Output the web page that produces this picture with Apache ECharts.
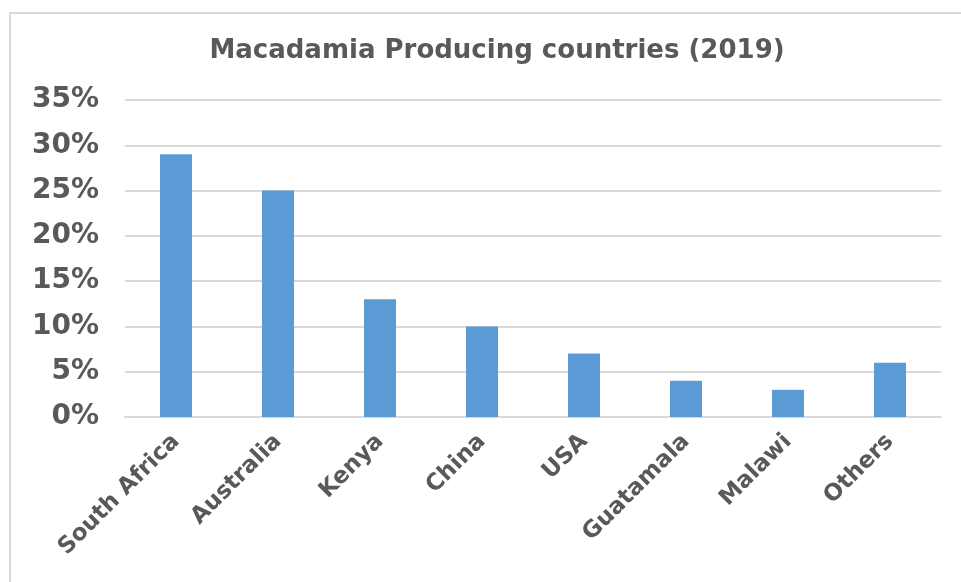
<!DOCTYPE html>
<html>
<head>
<meta charset="utf-8">
<script src="https://cdn.jsdelivr.net/npm/echarts@6/dist/echarts.min.js"></script>
<style>
  html, body { margin: 0; padding: 0; background: #fff; }
  #chart { width: 961px; height: 582px; }
</style>
</head>
<body>
<div id="chart"></div>
<script>
var countries = ['South Africa', 'Australia', 'Kenya', 'China', 'USA', 'Guatamala', 'Malawi', 'Others'];
var shares = [0.29, 0.25, 0.13, 0.10, 0.07, 0.04, 0.03, 0.06];

var textGray = '#595959';
var myChart = echarts.init(document.getElementById('chart'));

var option = {
    animation: false,
    backgroundColor: '#fff',
    title: {
        text: 'Macadamia Producing countries (2019)',
        left: 492,
        textAlign: 'center',
        top: 33,
        textStyle: {
            fontFamily: 'DejaVu Sans',
            fontWeight: 'bold',
            fontSize: 26,
            color: textGray
        }
    },
    // chart frame like the spreadsheet border
    graphic: [{
        type: 'rect',
        shape: { x: 10, y: 13, width: 960, height: 580 },
        style: { fill: 'none', stroke: '#d9d9d9', lineWidth: 2 },
        silent: true
    }],
    grid: {
        left: 125,
        right: 20,
        top: 100,
        bottom: 165
    },
    xAxis: {
        type: 'category',
        data: countries,
        axisLine: { show: true, lineStyle: { color: '#d9d9d9', width: 2 } },
        axisTick: { show: false },
        axisLabel: {
            rotate: 45,
            margin: 21,
            interval: 0,
            fontFamily: 'DejaVu Sans',
            fontWeight: 'bold',
            fontSize: 23,
            color: textGray
        }
    },
    yAxis: {
        type: 'value',
        min: 0,
        max: 0.35,
        interval: 0.05,
        axisLine: { show: false },
        axisTick: { show: false },
        splitLine: { lineStyle: { color: '#d9d9d9', width: 2 } },
        axisLabel: {
            margin: 26,
            fontFamily: 'DejaVu Sans',
            fontWeight: 'bold',
            fontSize: 28,
            color: textGray,
            formatter: function (v) {
                return Math.round(v * 100) + '%';
            }
        }
    },
    series: [{
        type: 'bar',
        data: shares,
        barWidth: 32,
        itemStyle: { color: '#5b9bd5' }
    }]
};

myChart.setOption(option);
</script>
</body>
</html>
